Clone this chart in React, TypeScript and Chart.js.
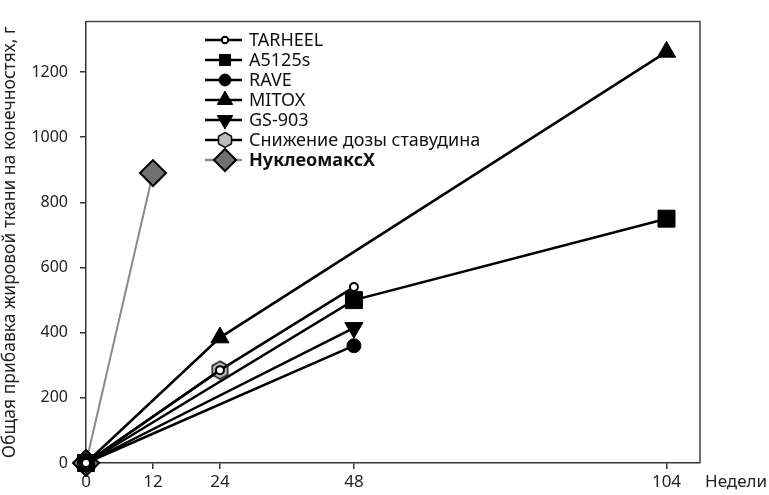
import React, { useEffect, useRef } from 'react';
import { Chart, registerables } from 'chart.js';
import { drawPoint } from 'chart.js/helpers';

Chart.register(...registerables);

// ---- data ----
const xTickValues = [0, 12, 24, 48, 104];
const yTickValues = [0, 200, 400, 600, 800, 1000, 1200];

const tarheelWeeks = [0, 24, 48];
const tarheelGain = [0, 285, 540];
const a5125sWeeks = [0, 48, 104];
const a5125sGain = [0, 500, 750];
const raveWeeks = [0, 48];
const raveGain = [0, 360];
const mitoxWeeks = [0, 24, 104];
const mitoxGain = [0, 385, 1262];
const gs903Weeks = [0, 48];
const gs903Gain = [0, 415];
const stavWeeks = [0, 24];
const stavGain = [0, 285];
const nucleoWeeks = [0, 12];
const nucleoGain = [0, 890];

const seriesNames = [
  'TARHEEL',
  'A5125s',
  'RAVE',
  'MITOX',
  'GS-903',
  'Снижение дозы ставудина',
  'НуклеомаксX',
];
const yTitle = 'Общая прибавка жировой ткани на конечностях, г';
const xTitle = 'Недели';

const FONT = "'Noto Sans', sans-serif";

function pts(xs: number[], ys: number[]) {
  return xs.map((x, i) => ({ x, y: ys[i] }));
}

function makeHex(size: number): HTMLCanvasElement {
  const c = document.createElement('canvas');
  c.width = size;
  c.height = size;
  const ctx = c.getContext('2d')!;
  const r = size / 2 - 1.5;
  const cx = size / 2;
  const cy = size / 2;
  ctx.beginPath();
  for (let i = 0; i < 6; i++) {
    const a = (Math.PI / 3) * i - Math.PI / 2;
    const px = cx + r * Math.cos(a);
    const py = cy + r * Math.sin(a);
    if (i === 0) ctx.moveTo(px, py);
    else ctx.lineTo(px, py);
  }
  ctx.closePath();
  ctx.fillStyle = '#bdbdbd';
  ctx.fill();
  ctx.lineWidth = 1.5;
  ctx.strokeStyle = '#111';
  ctx.stroke();
  return c;
}

export default function App() {
  const ref = useRef<HTMLCanvasElement>(null);

  useEffect(() => {
    document.body.style.margin = '0';
    const hex = makeHex(21);
    const hexSmall = makeHex(18);

    const styles = [
      { pointStyle: 'circle', radius: 4, rotation: 0, bg: '#fff', border: '#000', bw: 2, line: '#000', lw: 2.5 },
      { pointStyle: 'rect', radius: 12, rotation: 0, bg: '#000', border: '#000', bw: 1, line: '#000', lw: 2.5 },
      { pointStyle: 'circle', radius: 7, rotation: 0, bg: '#000', border: '#000', bw: 1, line: '#000', lw: 2.5 },
      { pointStyle: 'triangle', radius: 10.5, rotation: 0, bg: '#000', border: '#000', bw: 1, line: '#000', lw: 2.5 },
      { pointStyle: 'triangle', radius: 10.5, rotation: 180, bg: '#000', border: '#000', bw: 1, line: '#000', lw: 2.5 },
      { pointStyle: hex as any, radius: 10, rotation: 0, bg: '#bdbdbd', border: '#000', bw: 1.5, line: '#000', lw: 2.5 },
      { pointStyle: 'rectRot', radius: 13, rotation: 0, bg: '#707070', border: '#000', bw: 2, line: '#8a8a8a', lw: 2 },
    ];

    const dataSets = [
      pts(tarheelWeeks, tarheelGain),
      pts(a5125sWeeks, a5125sGain),
      pts(raveWeeks, raveGain),
      pts(mitoxWeeks, mitoxGain),
      pts(gs903Weeks, gs903Gain),
      pts(stavWeeks, stavGain),
      pts(nucleoWeeks, nucleoGain),
    ];

    const datasets = dataSets.map((d, i) => ({
      label: seriesNames[i],
      data: d,
      borderColor: styles[i].line,
      borderWidth: styles[i].lw,
      backgroundColor: styles[i].bg,
      pointStyle: styles[i].pointStyle,
      pointRadius: styles[i].radius,
      pointRotation: styles[i].rotation,
      pointBackgroundColor: styles[i].bg,
      pointBorderColor: styles[i].border,
      pointBorderWidth: styles[i].bw,
      tension: 0,
      fill: false,
      clip: false,
    }));

    const legendScale = [0.8, 0.65, 0.85, 0.85, 0.85, 1, 0.85];

    const customPlugin = {
      id: 'custom',
      beforeDatasetsDraw(chart: any) {
        const { ctx, chartArea } = chart;
        ctx.save();
        ctx.strokeStyle = '#444';
        ctx.lineWidth = 1.5;
        ctx.beginPath();
        ctx.moveTo(chartArea.left, chartArea.top);
        ctx.lineTo(chartArea.right, chartArea.top);
        ctx.lineTo(chartArea.right, chartArea.bottom);
        ctx.stroke();
        ctx.restore();
      },
      afterDraw(chart: any) {
        const { ctx } = chart;
        ctx.save();
        // legend
        const x0 = 205;
        const x1 = 242;
        const xm = 225;
        for (let i = 0; i < seriesNames.length; i++) {
          const y = 40 + 20 * i;
          const s = styles[i];
          ctx.strokeStyle = s.line;
          ctx.lineWidth = 2.5;
          ctx.beginPath();
          ctx.moveTo(x0, y);
          ctx.lineTo(x1, y);
          ctx.stroke();
          ctx.fillStyle = s.bg;
          ctx.strokeStyle = s.border;
          ctx.lineWidth = s.bw;
          drawPoint(ctx, {
            pointStyle: i === 5 ? (hexSmall as any) : s.pointStyle,
            radius: s.radius * legendScale[i],
            rotation: s.rotation,
            borderWidth: s.bw,
          } as any, xm, y);
          ctx.fillStyle = '#111';
          ctx.textBaseline = 'middle';
          ctx.textAlign = 'left';
          ctx.font = (i === 6 ? 'bold ' : '') + '18px ' + FONT;
          ctx.fillText(seriesNames[i], 249, y + 1);
        }
        // x axis unit label
        ctx.font = '17px ' + FONT;
        ctx.fillStyle = '#222';
        ctx.textBaseline = 'middle';
        ctx.textAlign = 'left';
        ctx.fillText(xTitle, 705, 482);
        ctx.restore();
      },
    };

    const chart = new Chart(ref.current!, {
      type: 'line',
      data: { datasets: datasets as any },
      options: {
        animation: false,
        responsive: false,
        devicePixelRatio: 1,
        layout: { padding: { left: 0, top: 20, right: 69, bottom: 0 } },
        plugins: {
          legend: { display: false },
          tooltip: { enabled: false },
        },
        scales: {
          x: {
            type: 'linear',
            min: 0,
            max: 110,
            afterBuildTicks: (s: any) => {
              s.ticks = xTickValues.map((v) => ({ value: v }));
            },
            afterFit: (s: any) => {
              s.height = 32;
            },
            grid: {
              display: true,
              drawOnChartArea: false,
              drawTicks: true,
              tickLength: 6,
              color: '#333',
              lineWidth: 1.5,
            },
            border: { display: true, color: '#333', width: 1.5 },
            ticks: {
              autoSkip: false,
              maxRotation: 0,
              padding: 3,
              color: '#222',
              font: { family: FONT, size: 17 },
              callback: (v: any) => String(v),
            },
          },
          y: {
            type: 'linear',
            min: 0,
            max: 1355,
            afterBuildTicks: (s: any) => {
              s.ticks = yTickValues.map((v) => ({ value: v }));
            },
            afterFit: (s: any) => {
              s.width = 86;
            },
            grid: {
              display: true,
              drawOnChartArea: false,
              drawTicks: true,
              tickLength: 6,
              color: '#333',
              lineWidth: 1.5,
            },
            border: { display: true, color: '#333', width: 1.5 },
            ticks: {
              padding: 12,
              color: '#222',
              font: { family: FONT, size: 16 },
              callback: (v: any) => String(v),
            },
            title: {
              display: true,
              text: yTitle,
              color: '#222',
              padding: { top: 0, bottom: 0 },
              font: { family: FONT, size: 17.5 },
            },
          },
        },
      },
      plugins: [customPlugin],
    });

    return () => chart.destroy();
  }, []);

  return <canvas ref={ref} width={769} height={495} style={{ display: 'block', width: 769, height: 495 }} />;
}
